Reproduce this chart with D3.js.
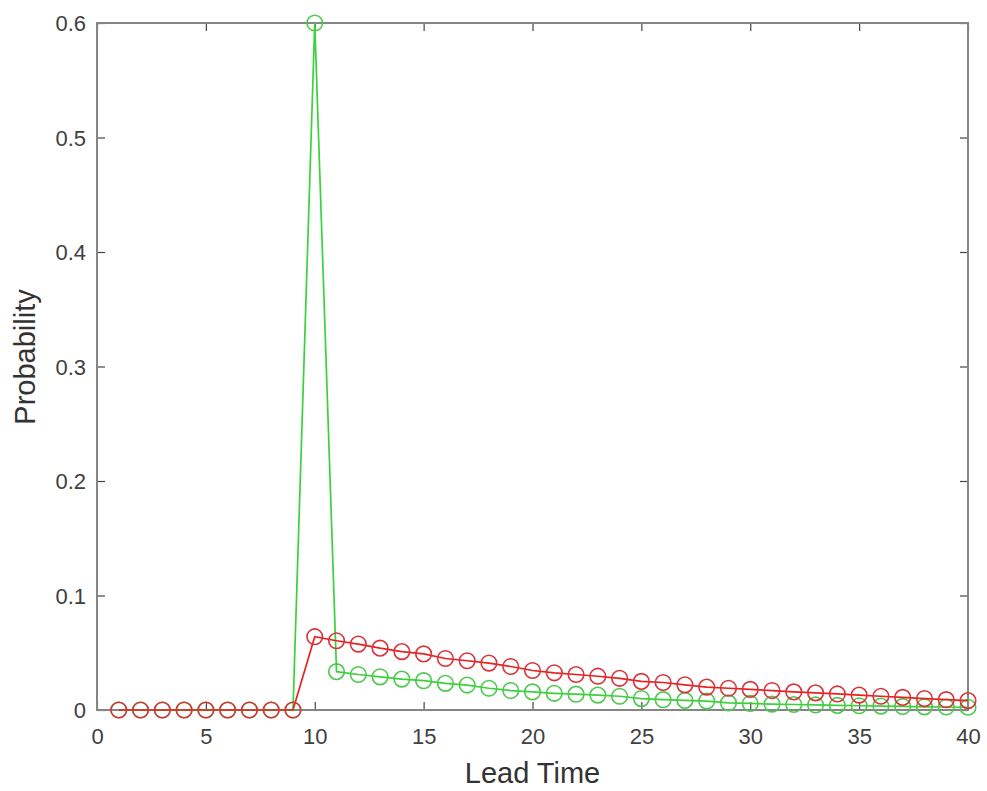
<html>
<head>
<style>
  body { margin: 0; background: #fff; }
  .tick text { font-family: "Liberation Sans", Arial, sans-serif; font-size: 22px; fill: #404040; }
  .lbl { font-family: "Liberation Sans", Arial, sans-serif; font-size: 29px; fill: #333; }
</style>
</head>
<body>
<svg width="987" height="791"></svg>
<script src="https://d3js.org/d3.v7.min.js"></script>
<script>
// lead time steps
var leadTime = [1,2,3,4,5,6,7,8,9,10,11,12,13,14,15,16,17,18,19,20,
                21,22,23,24,25,26,27,28,29,30,31,32,33,34,35,36,37,38,39,40];
var redProb = [0,0,0,0,0,0,0,0,0,
  0.064,0.0605,0.0576,0.054,0.051,0.049,0.045,0.043,0.041,0.038,0.0345,
  0.0325,0.031,0.0295,0.0277,0.025,0.024,0.022,0.020,0.019,0.018,
  0.017,0.0158,0.015,0.014,0.013,0.012,0.011,0.010,0.009,0.0082];
var greenProb = [0,0,0,0,0,0,0,0,0,
  0.6,0.0335,0.031,0.029,0.027,0.0256,0.0233,0.0218,0.019,0.017,0.0158,
  0.0146,0.0138,0.013,0.012,0.010,0.009,0.0084,0.0078,0.0062,0.0057,
  0.0052,0.0048,0.0044,0.004,0.0037,0.0034,0.0031,0.0028,0.0026,0.0024];
var xTicks = [0,5,10,15,20,25,30,35,40];
var yTicks = [0,0.1,0.2,0.3,0.4,0.5,0.6];

var svg = d3.select("svg");
var m = { left: 97, right: 968, top: 23, bottom: 710 };

var x = d3.scaleLinear().domain([0, 40]).range([m.left, m.right]);
var y = d3.scaleLinear().domain([0, 0.6]).range([m.bottom, m.top]);

svg.append("rect").attr("width", 987).attr("height", 791).attr("fill", "#fff");

// axes, ticks pointing inward
function styleAxis(g) {
  g.select(".domain").remove();
  g.selectAll(".tick line").attr("stroke", "#444").attr("stroke-width", 1.2);
}
svg.append("g").attr("transform", "translate(0," + m.bottom + ")")
  .call(d3.axisBottom(x).tickValues(xTicks).tickSizeInner(-8).tickSizeOuter(0).tickPadding(26))
  .call(styleAxis);
svg.append("g").attr("transform", "translate(0," + m.top + ")")
  .call(d3.axisTop(x).tickValues(xTicks).tickSizeInner(-8).tickSizeOuter(0).tickFormat(""))
  .call(styleAxis);
svg.append("g").attr("transform", "translate(" + m.left + ",0)")
  .call(d3.axisLeft(y).tickValues(yTicks).tickSizeInner(-8).tickSizeOuter(0).tickPadding(11)
    .tickFormat(function (d) { return d === 0 ? "0" : d3.format(".1f")(d); }))
  .call(styleAxis);
svg.append("g").attr("transform", "translate(" + m.right + ",0)")
  .call(d3.axisRight(y).tickValues(yTicks).tickSizeInner(-8).tickSizeOuter(0).tickFormat(""))
  .call(styleAxis);

svg.append("rect")
  .attr("x", m.left).attr("y", m.top)
  .attr("width", m.right - m.left).attr("height", m.bottom - m.top)
  .attr("fill", "none").attr("stroke", "#858585").attr("stroke-width", 2);

svg.selectAll(".tick text").attr("dy", null).attr("dominant-baseline", "central");

// series
var series = [
  { vals: greenProb, line: "#3ad23a", mark: "#4cc84c" },
  { vals: redProb, line: "#e82020", mark: "#d8333a" }
];
var line = d3.line().x(function (d) { return x(d[0]); }).y(function (d) { return y(d[1]); });

series.forEach(function (s) {
  var pts = leadTime.map(function (t, i) { return [t, s.vals[i]]; });
  svg.append("path").datum(pts)
    .attr("d", line)
    .attr("fill", "none")
    .attr("stroke", s.line)
    .attr("stroke-width", 1.7);
  svg.append("g").selectAll("circle")
    .data(pts).enter().append("circle")
    .attr("cx", function (d) { return x(d[0]); })
    .attr("cy", function (d) { return y(d[1]); })
    .attr("r", 7.8)
    .attr("fill", "none")
    .attr("stroke", s.mark)
    .attr("stroke-width", 1.6);
});

svg.append("text").attr("class", "lbl")
  .attr("x", (m.left + m.right) / 2).attr("y", 783)
  .attr("text-anchor", "middle")
  .text("Lead Time");

svg.append("text").attr("class", "lbl")
  .attr("transform", "translate(35,357) rotate(-90)")
  .attr("text-anchor", "middle")
  .text("Probability");
</script>
</body>
</html>
